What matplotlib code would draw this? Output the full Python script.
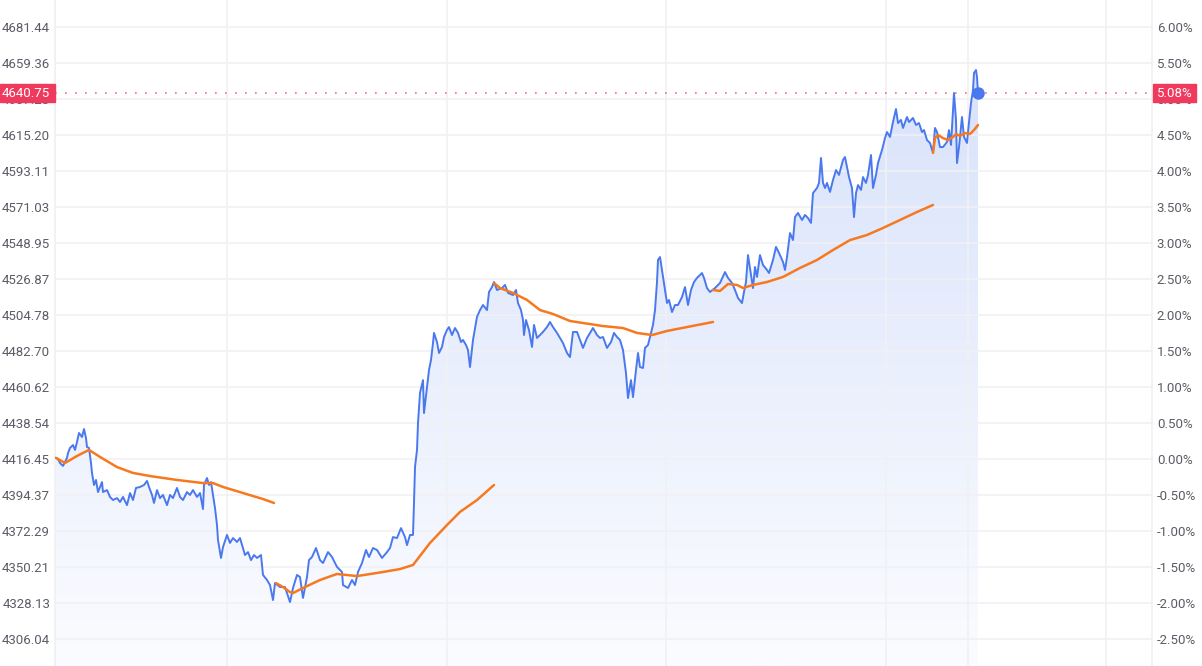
import numpy as np
import matplotlib
matplotlib.use("Agg")
import matplotlib.pyplot as plt
from matplotlib.patches import Rectangle
from matplotlib.colors import LinearSegmentedColormap

plt.rcParams['font.family'] = ['Roboto', 'DejaVu Sans']

# --- data --------------------------------------------------------------
base_price = 4416.455
last_price = 4640.75
last_pct = "5.08%"

# price line (time in bars from the start of the window)
price_t = [1, 3, 5, 8, 10, 12, 13, 15, 18, 20, 22, 24, 27, 29, 31, 32, 34, 36, 37, 39,
           41, 43, 45, 47, 48, 52, 55, 58, 62, 65, 68, 72, 75, 78, 81, 85, 89, 92, 94, 97,
           99, 102, 105, 108, 112, 115, 118, 122, 125, 128, 132, 135, 138, 142, 145, 148, 149, 152, 154, 156,
           158, 160, 162, 163, 166, 168, 172, 175, 178, 182, 185, 188, 190, 193, 196, 199, 202, 206, 208, 212,
           215, 218, 220, 225, 230, 235, 238, 242, 245, 248, 252, 254, 257, 261, 265, 268, 273, 277, 282, 287,
           288, 293, 297, 300, 303, 307, 311, 314, 318, 322, 327, 332, 335, 338, 342, 346, 350, 352, 355, 358,
           359, 360, 362, 363, 365, 368, 369, 372, 374, 376, 378, 379, 382, 384, 387, 389, 392, 394, 397, 400,
           403, 406, 408, 411, 413, 415, 418, 422, 425, 428, 432, 434, 437, 439, 442, 447, 450, 453, 458, 461,
           463, 466, 468, 469, 471, 474, 477, 479, 482, 485, 488, 492, 495, 498, 502, 505, 508, 512, 515, 518,
           522, 525, 528, 532, 535, 538, 542, 545, 548, 552, 556, 559, 562, 565, 568, 571, 573, 576, 578, 581,
           583, 585, 588, 590, 593, 596, 598, 600, 602, 603, 605, 608, 610, 612, 614, 617, 620, 623, 627, 630,
           633, 636, 639, 642, 647, 649, 652, 655, 660, 665, 670, 673, 677, 680, 683, 687, 689, 691, 693, 696,
           698, 700, 702, 705, 708, 712, 714, 718, 721, 724, 728, 730, 732, 735, 738, 740, 743, 747, 750, 753,
           756, 758, 762, 764, 766, 768, 770, 772, 775, 778, 781, 784, 788, 790, 792, 794, 797, 799, 801, 803,
           806, 808, 811, 813, 816, 818, 821, 823, 827, 830, 832, 835, 838, 841, 843, 846, 848, 852, 854, 858,
           861, 864, 867, 869, 872, 875, 878, 880, 882, 885, 888, 892, 894, 896, 898, 899, 901, 902, 904, 907,
           909, 912, 913, 916, 918, 919, 921, 922, 923]
price_v = [4417.3, 4416.6, 4414.2, 4412.4, 4414.8, 4417.3, 4420.3, 4423.4, 4425.2, 4422.2,
           4427.1, 4432.6, 4430.1, 4435.0, 4429.5, 4424.0, 4423.4, 4414.2, 4408.1, 4400.7,
           4403.8, 4396.4, 4399.5, 4402.5, 4396.4, 4397.6, 4393.4, 4391.5, 4392.7, 4390.3,
           4393.4, 4388.4, 4395.8, 4391.5, 4398.9, 4399.5, 4400.7, 4403.2, 4399.5, 4394.6,
           4389.7, 4397.6, 4392.7, 4394.6, 4388.4, 4394.6, 4392.7, 4398.9, 4393.4, 4391.5,
           4396.4, 4394.6, 4397.6, 4393.4, 4395.8, 4386.0, 4400.7, 4405.0, 4400.7, 4402.5,
           4394.6, 4386.6, 4376.2, 4367.0, 4356.0, 4362.7, 4370.1, 4365.2, 4368.2, 4365.8,
           4368.2, 4362.1, 4357.8, 4359.6, 4354.7, 4357.8, 4356.0, 4357.8, 4345.6, 4342.5,
           4339.4, 4330.2, 4340.6, 4338.2, 4338.2, 4329.0, 4337.6, 4345.6, 4344.3, 4331.5,
           4344.3, 4354.7, 4356.6, 4362.1, 4354.7, 4352.9, 4359.6, 4356.6, 4350.5, 4347.4,
           4339.4, 4337.6, 4342.5, 4339.4, 4347.4, 4352.9, 4360.9, 4356.6, 4362.1, 4360.9,
           4356.0, 4359.6, 4362.1, 4368.8, 4368.2, 4374.3, 4368.8, 4363.9, 4370.1, 4370.1,
           4389.7, 4411.7, 4422.2, 4438.7, 4457.1, 4465.0, 4444.8, 4460.8, 4471.2, 4477.3,
           4487.7, 4493.9, 4488.3, 4481.6, 4485.3, 4491.4, 4495.7, 4497.5, 4492.6, 4496.9,
           4493.9, 4488.3, 4489.6, 4486.5, 4483.4, 4473.0, 4489.6, 4503.7, 4507.9, 4511.0,
           4507.9, 4519.0, 4522.0, 4525.1, 4520.2, 4521.4, 4523.3, 4518.4, 4517.1, 4520.2,
           4512.2, 4507.9, 4501.8, 4492.6, 4501.8, 4495.7, 4485.3, 4498.8, 4490.8, 4492.6,
           4494.5, 4497.5, 4500.6, 4497.5, 4493.9, 4490.8, 4487.7, 4481.6, 4479.1, 4494.5,
           4494.5, 4489.6, 4484.7, 4490.8, 4493.9, 4496.9, 4492.6, 4490.8, 4491.4, 4484.7,
           4488.3, 4493.9, 4491.4, 4489.6, 4483.4, 4469.3, 4454.0, 4465.0, 4454.6, 4471.2,
           4481.6, 4473.0, 4472.4, 4484.7, 4486.5, 4493.9, 4498.8, 4507.9, 4525.1, 4538.6,
           4540.4, 4528.2, 4520.2, 4512.2, 4514.1, 4506.7, 4511.0, 4511.0, 4515.9, 4522.0,
           4511.0, 4520.2, 4525.1, 4527.6, 4530.6, 4527.6, 4521.4, 4519.0, 4521.4, 4524.5,
           4531.2, 4527.6, 4524.5, 4520.2, 4515.3, 4512.2, 4519.0, 4525.1, 4541.6, 4529.4,
           4521.4, 4534.3, 4528.2, 4541.6, 4535.5, 4532.5, 4530.6, 4538.6, 4546.6, 4542.9,
           4537.4, 4532.5, 4540.4, 4555.1, 4550.8, 4564.9, 4567.4, 4563.1, 4566.2, 4564.3,
           4561.3, 4579.6, 4582.7, 4585.8, 4601.1, 4585.8, 4582.7, 4585.8, 4580.3, 4587.6,
           4593.7, 4590.7, 4599.9, 4601.7, 4595.6, 4589.4, 4582.7, 4564.9, 4579.6, 4584.5,
           4581.5, 4589.4, 4585.8, 4590.7, 4602.9, 4582.7, 4590.7, 4598.0, 4606.0, 4613.3,
           4617.0, 4614.0, 4623.1, 4631.1, 4622.5, 4624.4, 4619.5, 4626.2, 4623.1, 4625.6,
           4621.3, 4622.5, 4617.0, 4618.2, 4612.1, 4610.3, 4604.2, 4619.5, 4617.0, 4607.8,
           4607.8, 4610.9, 4618.2, 4609.1, 4630.5, 4640.9, 4624.4, 4598.0, 4607.8, 4626.2,
           4614.0, 4610.3, 4617.0, 4634.8, 4642.8, 4653.2, 4655.0, 4650.7, 4640.75]

# moving average, drawn in separate pieces
ma1_t = [1, 10, 22, 34, 45, 62, 78, 95, 122, 148, 158, 168, 188, 208, 219]
ma1_v = [4417.3, 4414.2, 4418.5, 4422.2, 4417.9, 4411.7, 4408.1, 4406.2, 4403.8, 4401.9,
         4401.9, 4399.5, 4395.8, 4392.1, 4389.7]
ma2_t = [221, 228, 235, 238, 248, 265, 282, 302, 328, 345, 358, 375, 392, 405, 422, 439]
ma2_v = [4340.6, 4338.2, 4335.1, 4334.5, 4337.6, 4342.5, 4346.2, 4344.9, 4347.4, 4349.2,
         4351.7, 4365.2, 4376.2, 4384.2, 4391.5, 4400.7]
ma3_t = [439, 445, 458, 472, 485, 498, 515, 548, 568, 582, 597, 612, 632, 658]
ma3_v = [4524.5, 4521.4, 4518.4, 4514.1, 4507.9, 4505.5, 4501.2, 4498.1, 4496.9, 4493.9,
         4492.6, 4495.1, 4497.5, 4500.6]
ma4_t = [658, 665, 673, 682, 688, 698, 712, 728, 745, 762, 778, 795, 812, 828, 845, 862, 878]
ma4_v = [4520.2, 4519.6, 4523.9, 4523.3, 4521.4, 4523.3, 4525.1, 4528.2, 4533.7, 4538.6,
         4544.7, 4550.8, 4553.9, 4558.2, 4563.1, 4568.0, 4572.3]
ma5_t = [878, 880, 883, 888, 893, 898, 901, 905, 910, 915, 919, 923]
ma5_v = [4604.2, 4613.3, 4615.2, 4613.3, 4612.1, 4614.0, 4615.8, 4614.6, 4616.4, 4615.8,
         4618.2, 4621.3]

# axis labels
price_ticks = ["4306.04", "4328.13", "4350.21", "4372.29", "4394.37", "4416.45", "4438.54",
               "4460.62", "4482.70", "4504.78", "4526.87", "4548.95", "4571.03", "4593.11",
               "4615.20", "4637.28", "4659.36", "4681.44"]
pct_ticks = ["-2.50%", "-2.00%", "-1.50%", "-1.00%", "-0.50%", "0.00%", "0.50%", "1.00%",
             "1.50%", "2.00%", "2.50%", "3.00%", "3.50%", "4.00%", "4.50%", "5.00%", "5.50%", "6.00%"]
pct_values = [-2.5, -2.0, -1.5, -1.0, -0.5, 0.0, 0.5, 1.0, 1.5, 2.0, 2.5, 3.0, 3.5, 4.0,
              4.5, 5.0, 5.5, 6.0]
session_marks = [0, 172, 392, 611, 831, 913, 1051]

BLUE = "#4a78ee"
ORANGE = "#f7791f"
RED = "#ef3a5d"
GRID = "#f1f1f4"
LABEL = "#5c5c66"

W, H = 1202, 666
fig = plt.figure(figsize=(W / 100, H / 100), dpi=100)
ax = fig.add_axes([55 / W, 0, (1152 - 55) / W, 1])

y_lo, y_hi = 4289.8, 4697.9
x_lo, x_hi = 0, 1097
ax.set_xlim(x_lo, x_hi)
ax.set_ylim(y_lo, y_hi)

# gradient fill under price
grad = np.linspace(0, 1, 256).reshape(-1, 1)
cmap = LinearSegmentedColormap.from_list("fade", ["#fbfcff", "#d8e2fb"])
img = ax.imshow(grad, extent=[x_lo, x_hi, y_lo, 4660], origin="lower", aspect="auto",
                cmap=cmap, zorder=1)
poly = ax.fill_between(price_t, price_v, y_lo, color="none", lw=0)
img.set_clip_path(poly.get_paths()[0], transform=ax.transData)

ax.plot(price_t, price_v, color=BLUE, lw=1.4, zorder=3, solid_joinstyle="round")
for mt, mv in [(ma1_t, ma1_v), (ma2_t, ma2_v), (ma3_t, ma3_v), (ma4_t, ma4_v), (ma5_t, ma5_v)]:
    ax.plot(mt, mv, color=ORANGE, lw=1.8, zorder=4, solid_capstyle="round")

ax.plot([price_t[-1]], [last_price], "o", color=BLUE, ms=8, zorder=5)
ax.axhline(last_price, color="#f27088", lw=1.2, ls=(0, (1, 5)), zorder=2)

# grid
tick_prices = [float(s) for s in price_ticks]
ax.set_yticks(tick_prices)
ax.set_yticklabels(price_ticks)
ax.set_xticks(session_marks)
ax.set_xticklabels([])
ax.grid(True, color=GRID, lw=1.2, zorder=0)
ax.tick_params(axis="both", length=0)
ax.tick_params(axis="y", labelsize=9.5, labelcolor=LABEL, pad=3.5)
for s in ["top", "bottom"]:
    ax.spines[s].set_visible(False)
for s in ["left", "right"]:
    ax.spines[s].set_color(GRID)
    ax.spines[s].set_linewidth(1.2)

ax2 = ax.twinx()
ax2.set_ylim((y_lo / base_price - 1) * 100, (y_hi / base_price - 1) * 100)
ax2.set_yticks(pct_values)
ax2.set_yticklabels(pct_ticks)
ax2.tick_params(axis="y", length=0, labelsize=9.5, labelcolor=LABEL, pad=3.5)
for s in ax2.spines.values():
    s.set_visible(False)

# last value tags
ty = ax.transData.transform((0, last_price))[1] / H
fig.add_artist(Rectangle((0, ty - 9 / H), 55 / W, 18 / H, transform=fig.transFigure,
                         color=RED, zorder=10))
fig.text(50 / W, ty, f"{last_price:.2f}", color="white", fontsize=9.5,
         ha="right", va="center", zorder=11)
fig.add_artist(Rectangle((1153 / W, ty - 9 / H), 43 / W, 18 / H, transform=fig.transFigure,
                         color=RED, zorder=10))
fig.text(1157 / W, ty, last_pct, color="white", fontsize=9.5,
         ha="left", va="center", zorder=11)

fig.savefig("out.png", dpi=100)
